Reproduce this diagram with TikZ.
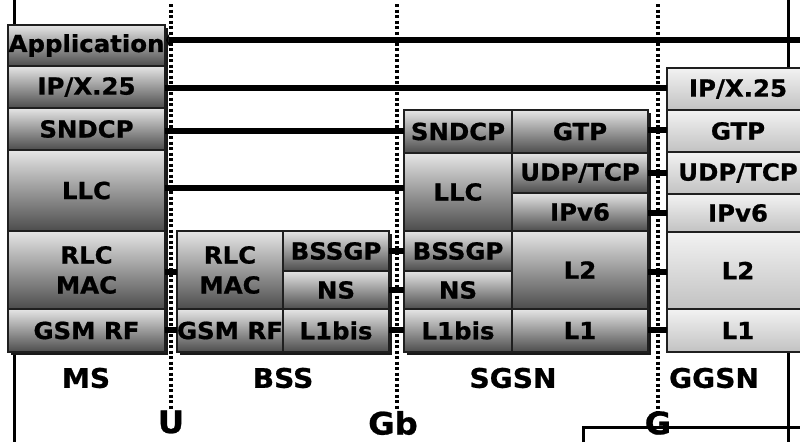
\documentclass[tikz,border=0pt]{standalone}
\usepackage{fontspec}
\setmainfont{DejaVu Sans}[BoldFeatures={FakeBold=0.8,FakeStretch=1.04}]
\usetikzlibrary{arrows.meta}
\newcommand\bxfont{\bfseries\fontsize{23.5}{30}\selectfont}
\newcommand\lbfont{\bfseries\fontsize{27}{30}\selectfont}
\newcommand\gatefont{\bfseries\fontsize{31}{34}\selectfont}
% name, x1, y1, x2, y2, text, style
\newcommand\stackbox[7]{\node[#7, minimum width={(#4-#2)*1pt}, minimum height={(#5-#3)*1pt}] (#1) at ({(#2+#4)/2},{(#3+#5)/2}) {#6};}
\tikzset{
  dk/.style={draw=black!88, line width=1.5pt, top color=black!10, bottom color=black!70,
             inner sep=0pt, outer sep=0pt, font=\bxfont, align=center},
  lt/.style={dk, top color=black!5, bottom color=black!24},
  shadowbox/.style={fill=black!90},
  link/.style={line width=6pt},
  iface/.style={line width=3.5pt, dash pattern=on 3pt off 2.5pt},
  frame/.style={line width=3pt},
  lbl/.style={font=\lbfont, inner sep=0pt},
  gate/.style={font=\gatefont, inner sep=0pt}
}
\begin{document}
\begin{tikzpicture}[x=1pt,y=-1pt]
\useasboundingbox (0,0) rectangle (800,442);
\clip (0,0) rectangle (800,442);
\fill[white] (0,0) rectangle (800,442);

% frame lines
\draw[frame] (14,0) -- (14,26);
\draw[frame] (14,351) -- (14,442);
\draw[frame] (788,0) -- (788,69);
\draw[frame] (788,351) -- (788,442);
\draw[frame] (583,442) -- (583,427) -- (800,427);

% stack shadows
\fill[shadowbox] (10.5,27.5) rectangle (167.5,354.5);
\fill[shadowbox] (179.5,233.5) rectangle (391.5,354.5);
\fill[shadowbox] (406.5,112.5) rectangle (650.5,354.5);

% MS
\stackbox{msapp}{8}{25}{165}{66}{Application}{dk}
\stackbox{msip}{8}{66}{165}{108}{IP/X.25}{dk}
\stackbox{mssn}{8}{108}{165}{150}{SNDCP}{dk}
\stackbox{msllc}{8}{150}{165}{231}{LLC}{dk}
\stackbox{msrlc}{8}{231}{165}{309}{RLC\\MAC}{dk}
\stackbox{msrf}{8}{309}{165}{352}{GSM RF}{dk}

% BSS
\stackbox{bsrlc}{177}{231}{283}{309}{RLC\\MAC}{dk}
\stackbox{bsbssgp}{283}{231}{389}{271}{BSSGP}{dk}
\stackbox{bsns}{283}{271}{389}{309}{NS}{dk}
\stackbox{bsrf}{177}{309}{283}{352}{GSM RF}{dk}
\stackbox{bsl1}{283}{309}{389}{352}{L1bis}{dk}

% SGSN
\stackbox{sgsn}{404}{110}{512}{153}{SNDCP}{dk}
\stackbox{sggtp}{512}{110}{648}{153}{GTP}{dk}
\stackbox{sgllc}{404}{153}{512}{231}{LLC}{dk}
\stackbox{sgudp}{512}{153}{648}{193}{UDP/TCP}{dk}
\stackbox{sgip}{512}{193}{648}{231}{IPv6}{dk}
\stackbox{sgbssgp}{404}{231}{512}{271}{BSSGP}{dk}
\stackbox{sgns}{404}{271}{512}{309}{NS}{dk}
\stackbox{sgl2}{512}{231}{648}{309}{L2}{dk}
\stackbox{sgl1bis}{404}{309}{512}{352}{L1bis}{dk}
\stackbox{sgl1}{512}{309}{648}{352}{L1}{dk}

% GGSN
\stackbox{ggip}{667}{68}{809}{110}{IP/X.25}{lt}
\stackbox{gggtp}{667}{110}{809}{152}{GTP}{lt}
\stackbox{ggudp}{667}{152}{809}{194}{UDP/TCP}{lt}
\stackbox{ggipv}{667}{194}{809}{232}{IPv6}{lt}
\stackbox{ggl2}{667}{232}{809}{309}{L2}{lt}
\stackbox{ggl1}{667}{309}{809}{352}{L1}{lt}

% entity labels
\node[lbl] (lms) at (86,378) {MS};
\node[lbl] (lbss) at (283,378) {BSS};
\node[lbl] (lsgsn) at (513,378) {SGSN};
\node[lbl] (lggsn) at (714,378) {GGSN};

% interface labels
\node[gate] (gu) at (171,422) {U};
\node[gate] (ggb) at (393,423) {Gb};
\node[gate] (gg) at (658,423) {G};

% interface dotted lines
\coordinate (utop) at (171,4);
\coordinate (gbtop) at (397,4);
\coordinate (gtop) at (658,4);
\draw[iface] (utop) -- (utop |- gu.north);
\draw[iface] (gbtop) -- (gbtop |- ggb.north);
\draw[iface] (gtop) -- (gtop |- gg.north);

% y levels
\coordinate (yapp) at (0,40);
\coordinate (yip) at (0,88);
\coordinate (ysn) at (0,131);
\coordinate (yllc) at (0,188);
\coordinate (yrlc) at (0,272);
\coordinate (yrf) at (0,330);
\coordinate (ybssgp) at (0,251);
\coordinate (yns) at (0,290);
\coordinate (ygtp) at (0,130);
\coordinate (yudp) at (0,173);
\coordinate (yipv) at (0,213);
\coordinate (yl2) at (0,272);
\coordinate (append) at (800,40);

% peer links
\draw[link, {Triangle[length=3pt,width=12pt]}-] ([xshift=1pt]msapp.east |- yapp) -- (append);
\draw[link] (msip.east |- yip) -- (ggip.west |- yip);
\draw[link] (mssn.east |- ysn) -- (sgsn.west |- ysn);
\draw[link] (msllc.east |- yllc) -- (sgllc.west |- yllc);
\draw[link] (msrlc.east |- yrlc) -- (bsrlc.west |- yrlc);
\draw[link] (msrf.east |- yrf) -- (bsrf.west |- yrf);
\draw[link] (bsbssgp.east |- ybssgp) -- (sgbssgp.west |- ybssgp);
\draw[link] (bsns.east |- yns) -- (sgns.west |- yns);
\draw[link] (bsl1.east |- yrf) -- (sgl1bis.west |- yrf);
\draw[link] (sggtp.east |- ygtp) -- (gggtp.west |- ygtp);
\draw[link] (sgudp.east |- yudp) -- (ggudp.west |- yudp);
\draw[link] (sgip.east |- yipv) -- (ggipv.west |- yipv);
\draw[link] (sgl2.east |- yl2) -- (ggl2.west |- yl2);
\draw[link] (sgl1.east |- yrf) -- (ggl1.west |- yrf);
\end{tikzpicture}
\end{document}
